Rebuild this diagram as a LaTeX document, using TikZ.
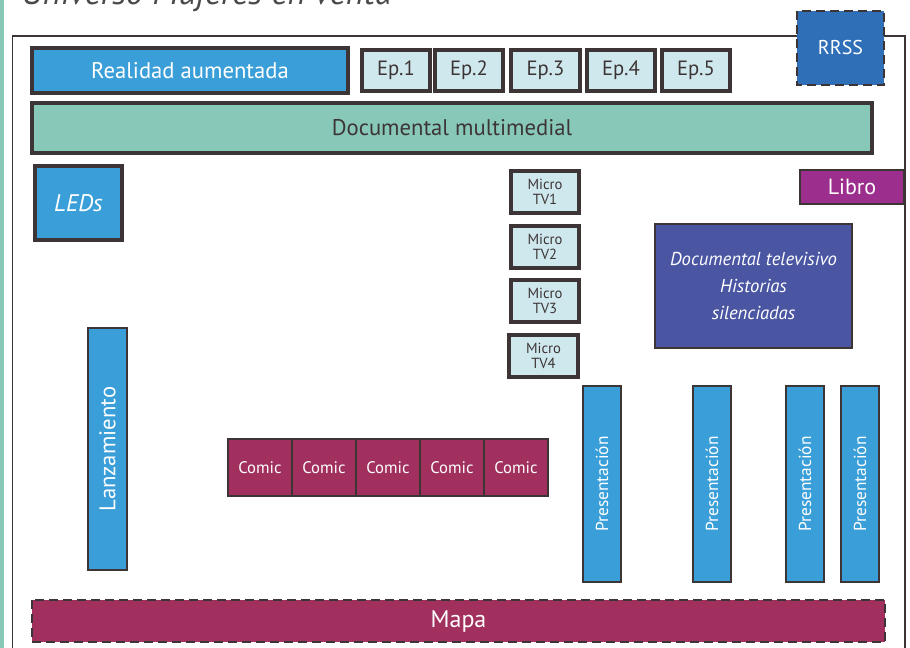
\documentclass[tikz,border=0pt]{standalone}
\usepackage{fontspec}
\setmainfont{PT Sans}

\definecolor{borde}{HTML}{3D3535}
\definecolor{azul}{HTML}{3A9FD9}
\definecolor{azulRRSS}{HTML}{2F6FB8}
\definecolor{celeste}{HTML}{CFE8EE}
\definecolor{verdeDoc}{HTML}{87C8B9}
\definecolor{moradoLibro}{HTML}{9C2F8E}
\definecolor{indigoDoc}{HTML}{4B56A3}
\definecolor{granate}{HTML}{A2305F}
\definecolor{grisTitulo}{HTML}{4A4A4A}

\tikzset{every picture/.style={line width=0.75pt}}
\tikzset{
	gruesa/.style={draw=borde, line width=2.4pt},
	fina/.style={draw=borde, line width=1pt},
	azulCaja/.style={fill=azul, text=white},
	epCaja/.style={gruesa, fill=celeste, text=borde, font=\fontsize{15.5}{18}\selectfont},
	microCaja/.style={gruesa, fill=celeste, text=borde, align=center, font=\fontsize{11}{11.5}\selectfont},
	presCaja/.style={fina, azulCaja},
	comicCaja/.style={fina, fill=granate, text=white, font=\fontsize{12.5}{14}\selectfont},
	rayada/.style={draw=borde, line width=2pt, dash pattern={on 7pt off 3.5pt}},
}

\begin{document}
\begin{tikzpicture}[x=0.75pt,y=0.75pt,yscale=-1,xscale=1]
	\useasboundingbox (0,0) rectangle (910,648);
	\clip (0,0) rectangle (910,648);

	%Page edge
	\fill [verdeDoc] (0,0) rectangle (4,648);
	% Title (cut at the top)
	\draw (21,5) node [anchor=base west][inner sep=0pt, text=grisTitulo, font=\fontsize{26}{28}\selectfont\itshape] (titulo) {Universo Mujeres en venta};
	%Frame
	\draw [draw=borde, line width=1.2pt] (12.5,36) rectangle (905,670);

	%Top row
	\draw [gruesa, azulCaja, font=\fontsize{17}{20}\selectfont] (32,48) rectangle node (realidad) {Realidad aumentada} (348,93);
	\draw [epCaja] (362,50) rectangle node (ep1) {Ep.1} (430,91);
	\draw [epCaja] (435,50) rectangle node (ep2) {Ep.2} (503,91);
	\draw [epCaja] (511,50) rectangle node (ep3) {Ep.3} (580,91);
	\draw [epCaja] (587,50) rectangle node (ep4) {Ep.4} (655,91);
	\draw [epCaja] (662,50) rectangle node (ep5) {Ep.5} (730,91);
	\draw [rayada, fill=azulRRSS, text=white, font=\fontsize{15}{18}\selectfont] (797,11) rectangle node (rrss) {RRSS} (884,85);

	%Documental multimedial
	\draw [gruesa, fill=verdeDoc, text=borde, font=\fontsize{17}{20}\selectfont] (32,103) rectangle node (multimedial) {Documental multimedial} (872,153);

	%LEDs and Libro
	\draw [gruesa, azulCaja, font=\fontsize{18}{20}\selectfont\itshape] (35,166) rectangle node (leds) {LEDs} (122,240);
	\draw [fina, fill=moradoLibro, text=white, font=\fontsize{16.5}{18}\selectfont] (800,170) rectangle node (libro) {Libro} (904,204);

	%Micro TV
	\draw [microCaja] (511,171) rectangle node (micro1) {Micro\\TV1} (579,213);
	\draw [microCaja] (511,226) rectangle node (micro2) {Micro\\TV2} (579,268);
	\draw [microCaja] (511,280) rectangle node (micro3) {Micro\\TV3} (579,322);
	\draw [microCaja] (509,335) rectangle node (micro4) {Micro\\TV4} (578,377);

	%Documental televisivo
	\draw [fina, fill=indigoDoc, text=white, align=center, font=\fontsize{14}{20.5}\selectfont\itshape] (655,224) rectangle node (televisivo) {Documental televisivo\\Historias\\silenciadas} (852,348);

	%Lanzamiento
	\draw [presCaja] (88,328) rectangle node [rotate=90, font=\fontsize{17}{19}\selectfont] (lanzamiento) {Lanzamiento} (127,570);

	%Comics
	\draw [comicCaja] (228,439) rectangle node (comic1) {Comic} (292,496);
	\draw [comicCaja] (292,439) rectangle node (comic2) {Comic} (356,496);
	\draw [comicCaja] (356,439) rectangle node (comic3) {Comic} (420,496);
	\draw [comicCaja] (420,439) rectangle node (comic4) {Comic} (484,496);
	\draw [comicCaja] (484,439) rectangle node (comic5) {Comic} (548,496);

	%Presentaciones
	\draw [presCaja] (583,386) rectangle node [rotate=90, font=\fontsize{13}{15}\selectfont] (pres1) {Presentación} (621,582);
	\draw [presCaja] (693,386) rectangle node [rotate=90, font=\fontsize{13}{15}\selectfont] (pres2) {Presentación} (731,582);
	\draw [presCaja] (786,386) rectangle node [rotate=90, font=\fontsize{13}{15}\selectfont] (pres3) {Presentación} (824,582);
	\draw [presCaja] (841,386) rectangle node [rotate=90, font=\fontsize{13}{15}\selectfont] (pres4) {Presentación} (879,582);

	%Mapa
	\draw [rayada, line width=2.2pt, fill=granate, text=white, font=\fontsize{18}{20}\selectfont] (32,600) rectangle node (mapa) {Mapa} (885,642);

\end{tikzpicture}
\end{document}
